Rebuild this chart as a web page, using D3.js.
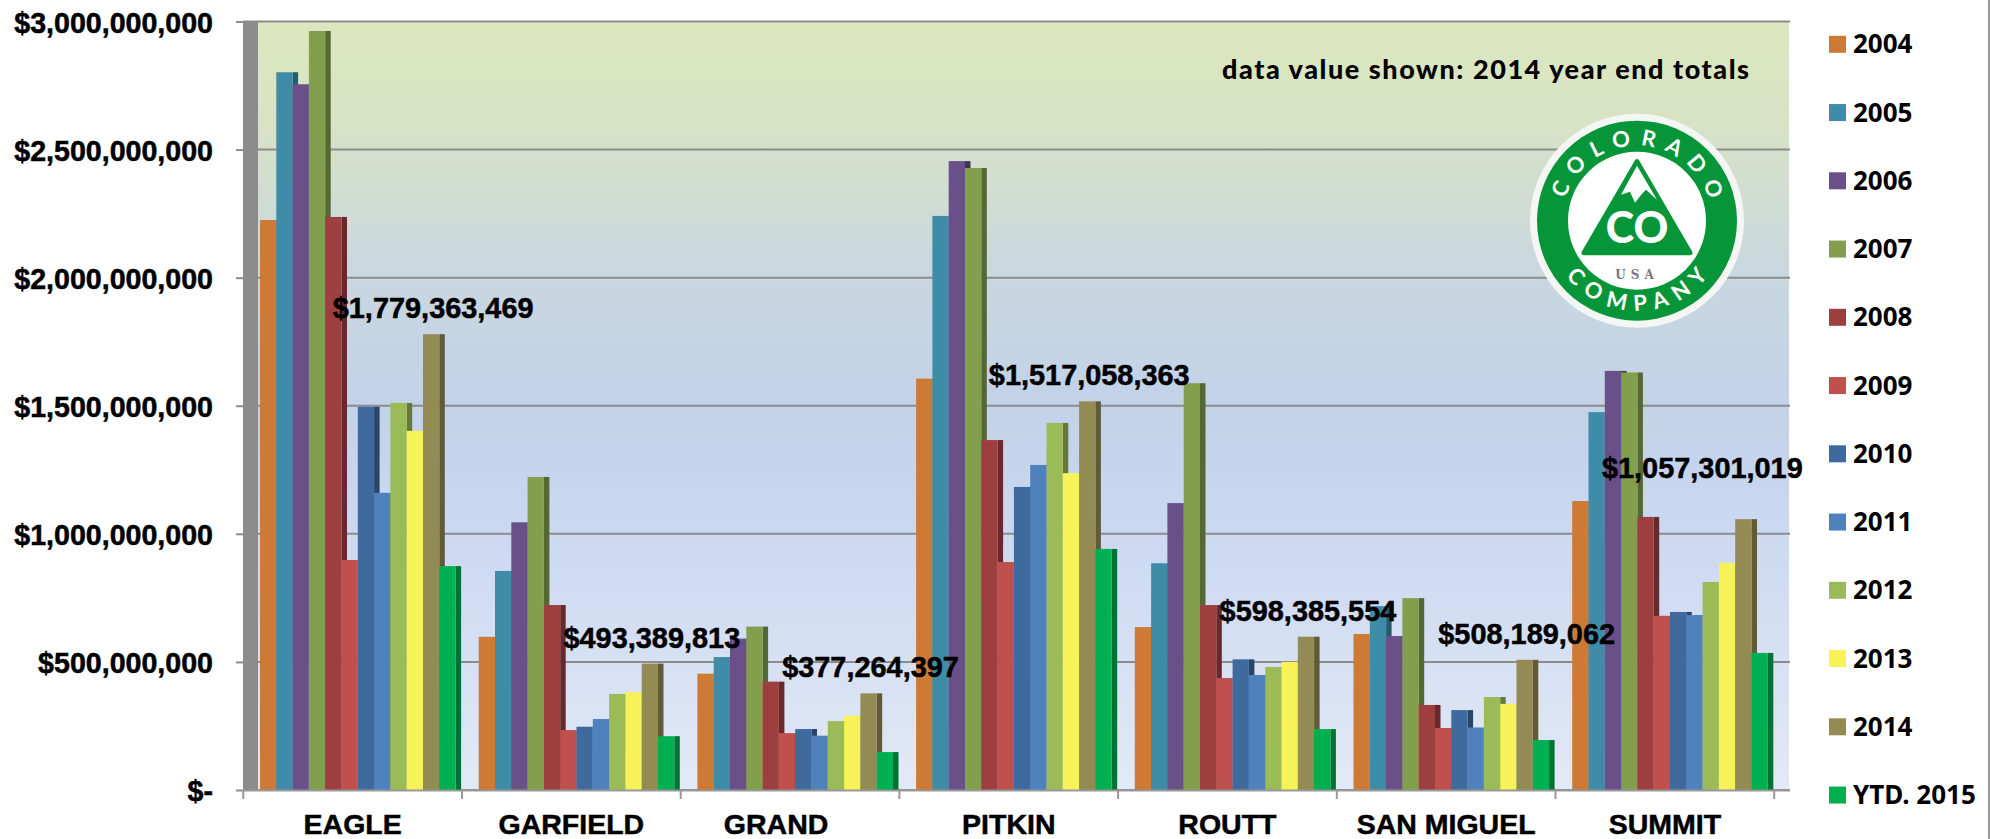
<!DOCTYPE html>
<html>
<head>
<meta charset="utf-8">
<title>Colorado county totals</title>
<script src="https://cdn.jsdelivr.net/npm/d3@7"></script>
<style>
    html, body { margin: 0; padding: 0; background: #fff; overflow: hidden; }
    svg { display: block; }
    .money { font-family: "Liberation Sans", Arial, sans-serif; font-weight: 700; fill: #000; stroke: #000; stroke-width: 0.5px; }
    .legend_label { font-family: "Noto Sans", sans-serif; font-weight: 700; font-size: 26px; fill: #000; }
    .logo_text { font-family: Lato, sans-serif; font-weight: 700; fill: #fff; }
</style>
</head>
<body>
<svg id="viz" width="1990" height="839"></svg>
<script>
const counties = ['EAGLE', 'GARFIELD', 'GRAND', 'PITKIN', 'ROUTT', 'SAN MIGUEL', 'SUMMIT']
const years = ['2004', '2005', '2006', '2007', '2008', '2009', '2010', '2011', '2012', '2013', '2014', 'YTD. 2015']
const year_colors = ['#cc7a36', '#3f8ca8', '#6a5088', '#839e4c', '#9e3f3f', '#c0504d', '#3f6a9e', '#4f81bd', '#9bbb59', '#f7f257', '#948a54', '#00b050']
const y_ticks = [0, 500000000, 1000000000, 1500000000, 2000000000, 2500000000, 3000000000]

const eagle = [2225000000, 2802000000, 2755000000, 2963000000, 2237000000, 898000000, 1496000000, 1160000000, 1511000000, 1402000000, 1779363469, 874000000]
const garfield = [598000000, 855000000, 1045000000, 1222000000, 722000000, 234000000, 247000000, 277000000, 375000000, 382000000, 493389813, 210000000]
const grand = [454000000, 519000000, 591000000, 638000000, 423000000, 222000000, 238000000, 212000000, 269000000, 290000000, 377264397, 148000000]
const pitkin = [1606000000, 2241000000, 2455000000, 2428000000, 1366000000, 890000000, 1183000000, 1269000000, 1433000000, 1237000000, 1517058363, 941000000]
const routt = [636000000, 885000000, 1120000000, 1588000000, 722000000, 437000000, 510000000, 449000000, 480000000, 500000000, 598385554, 238000000]
const san_miguel = [609000000, 718000000, 601000000, 749000000, 332000000, 242000000, 312000000, 244000000, 363000000, 336000000, 508189062, 195000000]
const summit = [1128000000, 1475000000, 1636000000, 1630000000, 1066000000, 680000000, 695000000, 683000000, 812000000, 886000000, 1057301019, 535000000]
const county_values = [eagle, garfield, grand, pitkin, routt, san_miguel, summit]

const grey = '#8c8c8c'

let svg = d3.select('#viz');

let x0 = d3.scaleBand().domain(counties).range([243.3, 1774.2]);
let x1 = d3.scaleBand().domain(years).range([16.7, 212.3]);
let y = d3.scaleLinear().domain([0, 3000000000]).range([790, 21.5]);

// plot background
let grad = svg.append('defs').append('linearGradient')
    .attr('id', 'wall').attr('x1', 0).attr('y1', 0).attr('x2', 0).attr('y2', 1);
[[0, '#dce7bf'], [0.12, '#d8e3c4'], [0.33, '#c9d7e0'], [0.5, '#c2d2e8'], [0.62, '#c8d6f0'], [1, '#e2e9f6']].forEach(function (s) {
    grad.append('stop').attr('offset', s[0]).attr('stop-color', s[1]);
});
svg.append('rect')
    .attr('x', 258).attr('y', y(3000000000))
    .attr('width', 1531).attr('height', y(0) - y(3000000000))
    .attr('fill', 'url(#wall)');

svg.append('rect')
    .attr('x', 243).attr('y', y(3000000000))
    .attr('width', 15).attr('height', y(0) - y(3000000000))
    .attr('fill', grey);

// gridlines
svg.append('g').selectAll('line')
    .data(y_ticks)
    .join('line')
    .attr('x1', 243).attr('x2', 1790)
    .attr('y1', d => y(d)).attr('y2', d => y(d))
    .attr('stroke', grey)
    .attr('stroke-width', 2);

// y axis
let y_axis = svg.append('g')
    .attr('transform', 'translate(243,0)')
    .call(d3.axisLeft(y)
        .tickValues(y_ticks)
        .tickSize(7)
        .tickPadding(23)
        .tickFormat(d => d === 0 ? '$-' : d3.format('$,')(d)));
y_axis.select('.domain').remove();
y_axis.selectAll('line').attr('stroke', grey).attr('stroke-width', 2);
y_axis.selectAll('text')
    .classed('money', true)
    .attr('dy', '0.38em')
    .style('font-size', '28.6px');

// bars, each one with a darker side that the next bar covers up
let groups = svg.append('g').selectAll('g')
    .data(counties)
    .join('g')
    .attr('transform', d => 'translate(' + x0(d) + ',0)');

groups.each(function (county, c) {
    let g = d3.select(this);
    years.forEach(function (year, i) {
        let v = county_values[c][i];
        g.append('rect')
            .attr('x', x1(year) + x1.bandwidth())
            .attr('y', y(v))
            .attr('width', 5.5)
            .attr('height', y(0) - y(v))
            .attr('fill', d3.color(year_colors[i]).darker(1.2));
        g.append('rect')
            .attr('x', x1(year))
            .attr('y', y(v))
            .attr('width', x1.bandwidth())
            .attr('height', y(0) - y(v))
            .attr('fill', year_colors[i]);
    });
});

// x axis, GRAND is off centre in the original
let x_axis = svg.append('g')
    .attr('transform', 'translate(0,' + y(0) + ')')
    .call(d3.axisBottom(x0).tickSize(0));
x_axis.select('.domain').remove();
x_axis.selectAll('text')
    .classed('money', true)
    .attr('y', 44)
    .attr('dy', 0)
    .attr('dx', d => d == 'GRAND' ? -14 : 0)
    .style('font-size', '28.5px');

svg.append('line')
    .attr('x1', 243).attr('x2', 1790)
    .attr('y1', y(0) + 0.5).attr('y2', y(0) + 0.5)
    .attr('stroke', '#999')
    .attr('stroke-width', 2);

svg.append('g').selectAll('line')
    .data(counties.concat(['end']))
    .join('line')
    .attr('x1', d => d == 'end' ? x0.range()[1] : x0(d))
    .attr('x2', d => d == 'end' ? x0.range()[1] : x0(d))
    .attr('y1', y(0))
    .attr('y2', y(0) + 9)
    .attr('stroke', '#999')
    .attr('stroke-width', 2);

// 2014 labels sit above the 2014 bar, SUMMIT had to be moved off it in the original
let label_year = '2014';
let label_i = years.indexOf(label_year);
svg.append('g').selectAll('text')
    .data(counties)
    .join('text')
    .classed('money', true)
    .attr('text-anchor', 'middle')
    .attr('x', d => x0(d) + x1(label_year) + x1.bandwidth() / 2 + 2 + (d == 'SUMMIT' ? -43 : 0))
    .attr('y', (d, i) => y(county_values[i][label_i]) - (d == 'SUMMIT' ? 41 : 16))
    .style('font-size', '28.9px')
    .text((d, i) => d3.format('$,')(county_values[i][label_i]));

// legend
let legend = svg.append('g').selectAll('g')
    .data(years)
    .join('g')
    .attr('transform', (d, i) => 'translate(1829,' + (44.3 + i * 68.25) + ')');
legend.append('rect')
    .attr('x', 0).attr('y', -8.5)
    .attr('width', 17).attr('height', 17)
    .attr('fill', (d, i) => year_colors[i]);
legend.append('text')
    .classed('legend_label', true)
    .attr('x', 24).attr('y', 9)
    .text(d => d);

// note in the corner
svg.append('text')
    .attr('x', 1222).attr('y', 79)
    .attr('textLength', 527)
    .attr('lengthAdjust', 'spacing')
    .style('font-family', 'Lato, sans-serif')
    .style('font-weight', 900)
    .style('font-size', '27px')
    .style('fill', '#000')
    .text('data value shown: 2014 year end totals');

// logo
let logo = svg.append('g').attr('transform', 'translate(1637,220.7)');
logo.append('circle').attr('r', 107).attr('fill', '#f4f6f4');
logo.append('circle').attr('r', 100).attr('fill', '#069639');
logo.append('circle').attr('r', 69).attr('fill', '#fff');
logo.append('path')
    .attr('d', 'M0,-59 L53,32 L-53,32 Z')
    .attr('fill', '#069639')
    .attr('stroke', '#069639')
    .attr('stroke-width', 5)
    .attr('stroke-linejoin', 'round');
logo.append('path')
    .attr('d', 'M0,-55 L20,-21 L9,-31 L5,-27 L-2,-18 L-7,-29 L-16,-26 Z')
    .attr('fill', '#fff');
logo.append('text')
    .classed('logo_text', true)
    .attr('text-anchor', 'middle')
    .attr('y', 22)
    .style('font-weight', 900)
    .style('font-size', '43px')
    .text('CO');
logo.append('text')
    .attr('text-anchor', 'middle')
    .attr('y', 58)
    .style('font-family', '"DejaVu Serif", serif')
    .style('font-weight', 700)
    .style('font-size', '12px')
    .style('letter-spacing', '5px')
    .style('fill', '#77777f')
    .text('USA');

let logo_defs = logo.append('defs');
logo_defs.append('path').attr('id', 'arc_top').attr('d', 'M-75,0 A75,75 0 0 1 75,0');
logo_defs.append('path').attr('id', 'arc_bottom').attr('d', 'M-90,0 A90,90 0 0 0 90,0');

// half of the letter spacing is added to the offset, it trails the last letter
logo.append('text')
    .classed('logo_text', true)
    .style('font-size', '22px')
    .style('letter-spacing', '9.6px')
    .append('textPath')
    .attr('href', '#arc_top')
    .attr('startOffset', Math.PI * 75 / 2 + 4.8)
    .attr('text-anchor', 'middle')
    .text('COLORADO');
logo.append('text')
    .classed('logo_text', true)
    .style('font-size', '22px')
    .style('letter-spacing', '8.6px')
    .append('textPath')
    .attr('href', '#arc_bottom')
    .attr('startOffset', Math.PI * 90 / 2 + 4.3)
    .attr('text-anchor', 'middle')
    .text('COMPANY');

// grey edge of the page
svg.append('rect')
    .attr('x', 1988).attr('y', 0)
    .attr('width', 2).attr('height', 839)
    .attr('fill', '#999');
</script>
</body>
</html>
